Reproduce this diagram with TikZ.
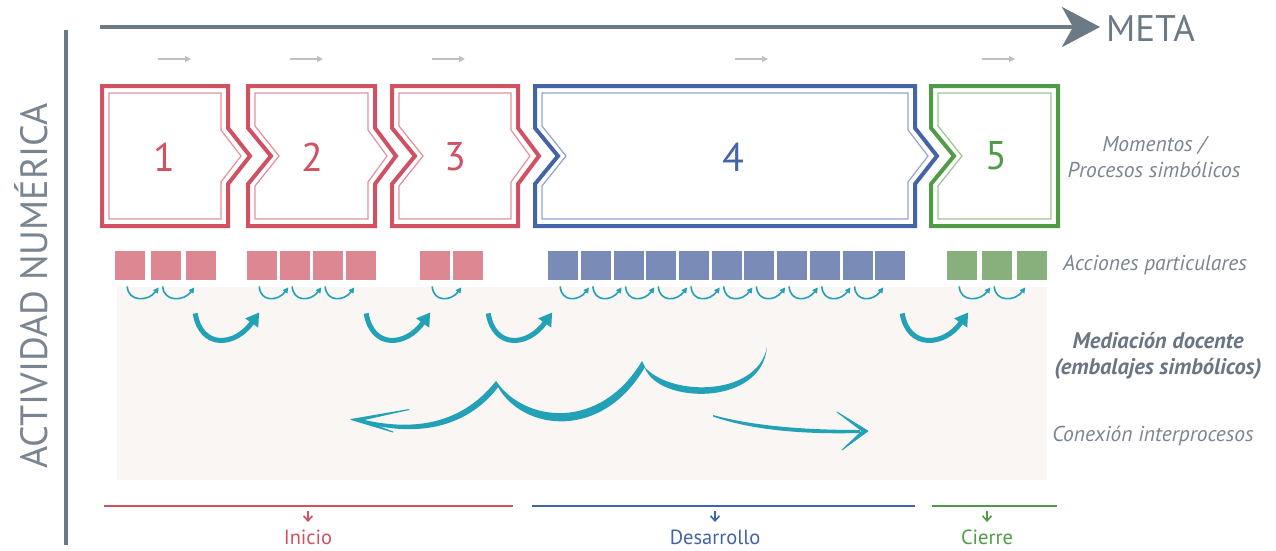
\documentclass[tikz,border=0pt]{standalone}
\usepackage{fontspec}
\setmainfont{PT Sans}
\usetikzlibrary{arrows.meta}

\definecolor{axisgray}{RGB}{108,122,134}
\definecolor{labelgray}{RGB}{122,133,145}
\definecolor{darklabel}{RGB}{105,117,130}
\definecolor{hintgray}{RGB}{192,192,192}
\definecolor{redline}{RGB}{208,82,98}
\definecolor{redinner}{RGB}{226,146,156}
\definecolor{redfill}{RGB}{220,135,146}
\definecolor{blueline}{RGB}{68,100,170}
\definecolor{blueinner}{RGB}{145,165,208}
\definecolor{bluefill}{RGB}{122,139,184}
\definecolor{greenline}{RGB}{80,155,72}
\definecolor{greeninner}{RGB}{155,198,145}
\definecolor{greenfill}{RGB}{135,176,125}
\definecolor{mediateal}{RGB}{34,161,183}
\definecolor{panelbg}{RGB}{249,246,243}

\tikzset{
  outerbox/.style={line width=4pt, line join=miter},
  innerbox/.style={line width=1.2pt},
  numlabel/.style={font=\fontsize{40}{40}\selectfont, inner sep=0pt},
  sq/.style={minimum width=30pt, minimum height=29pt, inner sep=0pt, anchor=north west},
  smallarc/.style={mediateal, line width=1.6pt, -{Triangle[length=5.5pt,width=5.5pt]}},
  bigarc/.style={mediateal, line width=5pt, -{Triangle[length=13pt,width=15pt]}},
  hintarrow/.style={hintgray, line width=1.3pt, -{Triangle[length=6pt,width=6pt]}},
  rlabel/.style={labelgray, align=center, font=\fontsize{21.5}{26}\selectfont\itshape},
  phase/.style={font=\fontsize{20.5}{20.5}\selectfont, inner sep=1pt},
  phaseline/.style={line width=1.4pt},
  phasearrow/.style={line width=1.6pt, -{Straight Barb[length=5pt,width=9pt]}},
}

\begin{document}
\begin{tikzpicture}[x=1pt,y=-1pt]
\useasboundingbox (0,0) rectangle (1276,550);
\fill[white] (0,0) rectangle (1276,550);

% mediation panel
\fill[panelbg] (117,287) rectangle (1047,480);

% axes
\coordinate (ytop) at (66,30);
\coordinate (ybot) at (66,545);
\draw[axisgray, line width=4pt] (ytop) -- (ybot);
\node[axisgray, anchor=west, inner sep=0pt, font=\fontsize{37}{37}\selectfont] (meta) at (1106,28) {META};
\coordinate (xstart) at (100,27);
\draw[axisgray, line width=4pt, -{Stealth[length=38pt,width=40pt,inset=11pt]}] (xstart) -- ([xshift=-6pt]meta.west |- xstart);
\node[labelgray, rotate=90, inner sep=0pt, font=\fontsize{38}{38}\selectfont] (actividad) at (31,286) {ACTIVIDAD NUMÉRICA};

% direction hints above the moments
\foreach \a/\b [count=\i] in {158/191, 290/323, 432/465, 735/768, 982/1015} {
  \coordinate (ha\i) at (\a,59);
  \coordinate (hb\i) at (\b,59);
  \draw[hintarrow] (ha\i) -- (hb\i);
}

% moment 1
\draw[redline, outerbox] (102,86) -- (228,86) -- (228,128) -- (250,156) -- (228,184) -- (228,226) -- (102,226) -- cycle;
\draw[redinner, innerbox] (109,93) -- (221,93) -- (221,130) -- (241,156) -- (221,182) -- (221,219) -- (109,219) -- cycle;
\node[numlabel, redline] (m1) at (164,157) {1};
% moment 2
\draw[redline, outerbox] (248,86) -- (375,86) -- (375,128) -- (396,156) -- (375,184) -- (375,226) -- (248,226) -- (248,184) -- (271,156) -- (248,128) -- cycle;
\draw[redinner, innerbox] (255,93) -- (368,93) -- (368,130) -- (387,156) -- (368,182) -- (368,219) -- (255,219) -- (255,186) -- (279,156) -- (255,126) -- cycle;
\node[numlabel, redline] (m2) at (312,157) {2};
% moment 3
\draw[redline, outerbox] (392,86) -- (518,86) -- (518,128) -- (539,156) -- (518,184) -- (518,226) -- (392,226) -- (392,184) -- (415,156) -- (392,128) -- cycle;
\draw[redinner, innerbox] (399,93) -- (511,93) -- (511,130) -- (530,156) -- (511,182) -- (511,219) -- (399,219) -- (399,186) -- (423,156) -- (399,126) -- cycle;
\node[numlabel, redline] (m3) at (455,157) {3};
% moment 4
\draw[blueline, outerbox] (535,86) -- (915,86) -- (915,128) -- (937,156) -- (915,184) -- (915,226) -- (535,226) -- (535,184) -- (558,156) -- (535,128) -- cycle;
\draw[blueinner, innerbox] (542,93) -- (908,93) -- (908,130) -- (928,156) -- (908,182) -- (908,219) -- (542,219) -- (542,186) -- (566,156) -- (542,126) -- cycle;
\node[numlabel, blueline] (m4) at (733,157) {4};
% moment 5
\draw[greenline, outerbox] (931,86) -- (1058,86) -- (1058,226) -- (931,226) -- (931,184) -- (954,156) -- (931,128) -- cycle;
\draw[greeninner, innerbox] (938,93) -- (1051,93) -- (1051,219) -- (938,219) -- (938,186) -- (962,156) -- (938,126) -- cycle;
\node[numlabel, greenline] (m5) at (996,156) {5};

% particular actions
\foreach \x [count=\i] in {115,150.5,186,247,280,313,346,420,453}
  \node[sq, fill=redfill] (r\i) at (\x,251) {};
\foreach \i in {0,...,10}
  \node[sq, fill=bluefill] (b\i) at ({548+32.7*\i},251) {};
\foreach \x [count=\i] in {947,982,1017}
  \node[sq, fill=greenfill] (g\i) at (\x,251) {};

% small mediations between neighbouring actions
\foreach \p/\q in {r1/r2, r2/r3, r4/r5, r5/r6, r6/r7, r8/r9, b0/b1, b1/b2, b2/b3, b3/b4, b4/b5, b5/b6, b6/b7, b7/b8, b8/b9, b9/b10, g1/g2, g2/g3}
  \draw[smallarc] ([shift={(-3,6)}]\p.south) .. controls +(1,16) and +(-10,14) .. ([shift={(-7,7)}]\q.south);

% mediations between moments
\draw[bigarc] ([shift={(-6,33)}]r3.south) .. controls +(6,36) and +(-24,34) .. ([shift={(-3,32)}]r4.south);
\draw[bigarc] ([shift={(5,33)}]r7.south) .. controls +(6,36) and +(-24,34) .. ([shift={(-5,32)}]r8.south);
\draw[bigarc] ([shift={(20,33)}]r9.south) .. controls +(6,36) and +(-24,34) .. ([shift={(-11,32)}]b0.south);
\draw[bigarc] ([shift={(12,33)}]b10.south) .. controls +(6,36) and +(-24,34) .. ([shift={(6,32)}]g1.south);

% connection between processes (brush strokes)
\fill[mediateal] (358,418.5) .. controls (420,434) and (465,420) .. (496,381)
  -- (499,386) .. controls (470,425) and (420,440) .. (358,421) -- cycle;
\fill[mediateal] (496,381) .. controls (525,423) and (600,431) .. (642,361)
  -- (645,367) .. controls (602,441) and (523,431) .. (498,387) -- cycle;
\fill[mediateal] (641,362) .. controls (662,397) and (757,399) .. (767,347)
  .. controls (762,407) and (658,404) .. (645,368) -- cycle;
\filldraw[mediateal, line width=1pt, line join=round] (409,409.5) -- (351,419.5) -- (393,432) -- (362,420) -- cycle;
\fill[mediateal] (713,415) .. controls (760,428) and (820,430) .. (860,430)
  -- (860,433) .. controls (820,434) and (760,433) .. (713,416.5) -- cycle;
\filldraw[mediateal, line width=0.8pt, line join=round] (837,412) -- (868,431) -- (842,450) -- (862,431) -- cycle;

% row labels
\node[rlabel] (momentos) at (1154,157) {Momentos /\\Procesos simbólicos};
\node[rlabel] (acciones) at (1155,265) {Acciones particulares};
\node[rlabel, darklabel, font=\fontsize{22.5}{26}\selectfont\bfseries\itshape] (mediacion) at (1158,356) {Mediación docente\\(embalajes simbólicos)};
\node[rlabel] (conexion) at (1153,436) {Conexión interprocesos};

% phases
\coordinate (ia) at (104,506); \coordinate (ib) at (513,506);
\coordinate (da) at (532,506); \coordinate (db) at (915,506);
\coordinate (ca) at (932,506); \coordinate (cb) at (1057,506);
\draw[redline, phaseline] (ia) -- (ib);
\draw[blueline, phaseline] (da) -- (db);
\draw[greenline, phaseline] (ca) -- (cb);
\node[phase, redline] (inicio) at (308,537) {Inicio};
\node[phase, blueline] (desarrollo) at (715,537) {Desarrollo};
\node[phase, greenline] (cierre) at (987,537) {Cierre};
\coordinate (iu) at (308,511); \coordinate (il) at (308,522);
\coordinate (du) at (715,511); \coordinate (dl) at (715,522);
\coordinate (cu) at (987,511); \coordinate (cl) at (987,522);
\draw[redline, phasearrow] (iu) -- (il);
\draw[blueline, phasearrow] (du) -- (dl);
\draw[greenline, phasearrow] (cu) -- (cl);
\end{tikzpicture}
\end{document}
